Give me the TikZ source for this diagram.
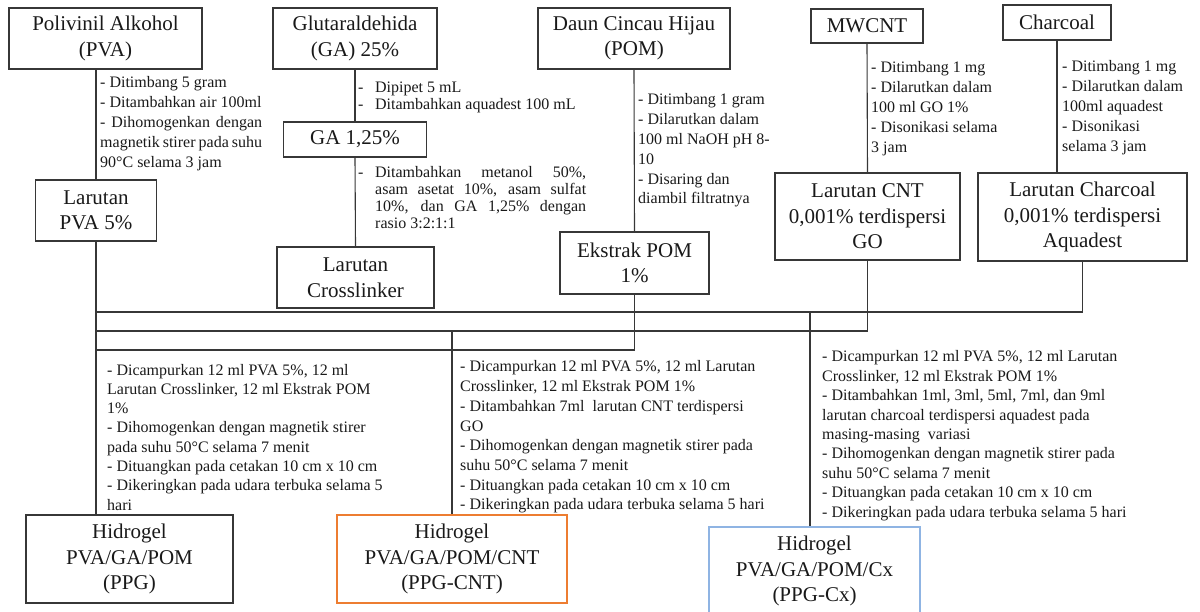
\documentclass[tikz,border=0pt]{standalone}
\usepackage{fontspec}
\setmainfont{Liberation Serif}
\definecolor{orng}{RGB}{237,125,49}
\definecolor{lblue}{RGB}{143,180,227}
\definecolor{ln}{RGB}{55,55,55}
\newcommand\blk[2]{\vtop{\baselineskip=#1pt\relax #2}}
\newcommand\Ln[1]{\hbox{#1}}
\newcommand\Js[2]{\hbox{\makebox[#1pt][s]{#2}}}
\begin{document}
\begin{tikzpicture}[x=1pt,y=-1pt,
  box/.style={draw=ln, line width=1.1pt, align=center, inner sep=0pt,
    font=\fontsize{21}{25.5}\selectfont, text=black!90},
  note/.style={anchor=base west, inner sep=0pt, font=\fontsize{16}{19.8}\selectfont, text=black!90},
  conn/.style={draw=ln, line width=1.1pt}]
\useasboundingbox (0,0) rectangle (1200,612);

% top row boxes
\node[box, minimum width=193, minimum height=61] (pva) at (105.5,38.5) {Polivinil Alkohol\\(PVA)};
\node[box, minimum width=121, minimum height=61] (lpva) at (96,210.5) {Larutan\\PVA 5\%};
\node[box, minimum width=164, minimum height=61] (ga) at (355,38.5) {Glutaraldehida\\(GA) 25\%};
\node[box, minimum width=143, minimum height=35] (ga125) at (355,139.5) {GA 1,25\%};
\node[box, minimum width=157, minimum height=61] (cl) at (355.5,277.5) {Larutan\\Crosslinker};
\node[box, minimum width=192, minimum height=61] (pom) at (634,38.5) {Daun Cincau Hijau\\(POM)};
\node[box, minimum width=149, minimum height=62] (epom) at (634.5,263) {Ekstrak POM\\1\%};
\node[box, minimum width=112, minimum height=34] (mw) at (867,26) {MWCNT};
\node[box, minimum width=185, minimum height=87] (lcnt) at (867.5,216.5) {Larutan CNT\\0,001\% terdispersi\\GO};
\node[box, minimum width=108, minimum height=35] (ch) at (1057,22.5) {Charcoal};
\node[box, minimum width=209, minimum height=88] (lch) at (1082.5,217) {Larutan Charcoal\\0,001\% terdispersi\\Aquadest};

% bottom boxes
\node[box, minimum width=207, minimum height=88] (ppg) at (129.5,559) {Hidrogel\\PVA/GA/POM\\(PPG)};
\node[box, draw=orng, minimum width=230, minimum height=88] (ppgcnt) at (452,559) {Hidrogel\\PVA/GA/POM/CNT\\(PPG-CNT)};
\node[box, draw=lblue, minimum width=211, minimum height=88] (cx) at (814.5,571) {Hidrogel\\PVA/GA/POM/Cx\\(PPG-Cx)};

% bus coordinates
\coordinate (busA) at (96,312);
\coordinate (busB) at (96,331);
\coordinate (busC) at (96,350);
\coordinate (cxj) at (810,312);

% connectors
\draw[conn] (lpva.north |- pva.south) -- (lpva.north);
\draw[conn] (lpva.south) -- (lpva.south |- ppg.north);
\draw[conn] (ga.south) -- (ga125.north);
\draw[conn] (ga125.south) -- (cl.north);
\draw[conn] (pom.south) -- (epom.north);
\draw[conn] (mw.south) -- (lcnt.north);
\draw[conn] (ch.south) -- (ch.south |- lch.north);
\draw[conn] (lch.south) |- (busA);
\draw[conn] (lcnt.south) |- (busB);
\draw[conn] (epom.south) |- (busC);
\draw[conn] (ppgcnt.north |- busB) -- (ppgcnt.north);
\draw[conn] (cxj) -- (cxj |- cx.north);

% notes
\node[note] (n1) at (100,88) {\blk{19.8}{%
  \Ln{- Ditimbang 5 gram}
  \Ln{- Ditambahkan air 100ml}
  \Js{162}{- Dihomogenkan dengan}
  \Js{162}{magnetik stirer pada suhu}
  \Ln{90°C selama 3 jam}}};
\node[note] (n2) at (358,93) {\blk{16.5}{%
  \Ln{\makebox[17pt][l]{-}Dipipet 5 mL}
  \Ln{\makebox[17pt][l]{-}Ditambahkan aquadest 100 mL}}};
\node[note] (n3) at (358,178) {\blk{16.7}{%
  \Ln{\makebox[17pt][l]{-}\makebox[211pt][s]{Ditambahkan metanol 50\%,}}
  \Ln{\hspace*{17pt}\makebox[211pt][s]{asam asetat 10\%, asam sulfat}}
  \Ln{\hspace*{17pt}\makebox[211pt][s]{10\%, dan GA 1,25\% dengan}}
  \Ln{\hspace*{17pt}rasio 3:2:1:1}}};
\node[note] (n4) at (638,105) {\blk{19.8}{%
  \Ln{- Ditimbang 1 gram}
  \Ln{- Dilarutkan dalam}
  \Ln{100 ml NaOH pH 8-}
  \Ln{10}
  \Ln{- Disaring dan}
  \Ln{diambil filtratnya}}};
\node[note] (n5) at (871,73) {\blk{19.8}{%
  \Ln{- Ditimbang 1 mg}
  \Ln{- Dilarutkan dalam}
  \Ln{100 ml GO 1\%}
  \Ln{- Disonikasi selama}
  \Ln{3 jam}}};
\node[note] (n6) at (1062,72) {\blk{19.8}{%
  \Ln{- Ditimbang 1 mg}
  \Ln{- Dilarutkan dalam}
  \Ln{100ml aquadest}
  \Ln{- Disonikasi}
  \Ln{selama 3 jam}}};
\node[note] (n7) at (107,375) {\blk{19.3}{%
  \Ln{- Dicampurkan 12 ml PVA 5\%, 12 ml}
  \Ln{Larutan Crosslinker, 12 ml Ekstrak POM}
  \Ln{1\%}
  \Ln{- Dihomogenkan dengan magnetik stirer}
  \Ln{pada suhu 50°C selama 7 menit}
  \Ln{- Dituangkan pada cetakan 10 cm x 10 cm}
  \Ln{- Dikeringkan pada udara terbuka selama 5}
  \Ln{hari}}};
\node[note] (n8) at (460,372) {\blk{19.7}{%
  \Ln{- Dicampurkan 12 ml PVA 5\%, 12 ml Larutan}
  \Ln{Crosslinker, 12 ml Ekstrak POM 1\%}
  \Ln{- Ditambahkan 7ml \ larutan CNT terdispersi}
  \Ln{GO}
  \Ln{- Dihomogenkan dengan magnetik stirer pada}
  \Ln{suhu 50°C selama 7 menit}
  \Ln{- Dituangkan pada cetakan 10 cm x 10 cm}
  \Ln{- Dikeringkan pada udara terbuka selama 5 hari}}};
\node[note] (n9) at (822,362) {\blk{19.4}{%
  \Ln{- Dicampurkan 12 ml PVA 5\%, 12 ml Larutan}
  \Ln{Crosslinker, 12 ml Ekstrak POM 1\%}
  \Ln{- Ditambahkan 1ml, 3ml, 5ml, 7ml, dan 9ml}
  \Ln{larutan charcoal terdispersi aquadest pada}
  \Ln{masing-masing \ variasi}
  \Ln{- Dihomogenkan dengan magnetik stirer pada}
  \Ln{suhu 50°C selama 7 menit}
  \Ln{- Dituangkan pada cetakan 10 cm x 10 cm}
  \Ln{- Dikeringkan pada udara terbuka selama 5 hari}}};
\end{tikzpicture}
\end{document}
